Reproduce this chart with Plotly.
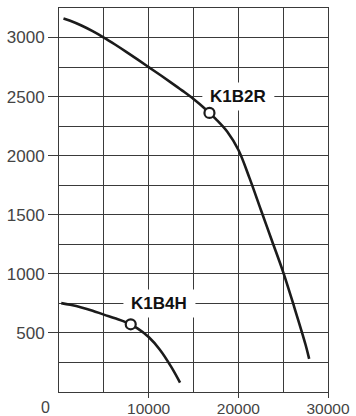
import plotly.graph_objects as go

# Pump curves: flow (x) against pressure (y)
k1b2r_flow = [500, 1250, 2500, 3750, 5000, 6250, 7500, 8750, 10000, 11250, 12500, 13750,
              15000, 16250, 17500, 18750, 20000, 21250, 22500, 23750, 25000, 26250, 27500, 27900]
k1b2r_pres = [3162, 3142, 3102, 3054, 3000, 2941, 2879, 2815, 2750, 2685, 2619, 2551,
              2480, 2400, 2310, 2205, 2050, 1810, 1545, 1280, 1015, 715, 400, 280]

k1b4h_flow = [250, 1250, 2500, 3750, 5000, 6250, 7500, 8750, 10000, 11250, 12500, 13500]
k1b4h_pres = [752, 738, 716, 688, 655, 624, 589, 539, 465, 358, 215, 80]

# Operating points marked on each curve
op_flow = [16780, 8000]
op_pres = [2362, 573]

# Curve names and where they are written
curve_names = ["K1B2R", "K1B4H"]
name_x = [20000, 11200]
name_y = [2500, 750]

x_ticks = [10000, 20000, 30000]
y_ticks = [500, 1000, 1500, 2000, 2500, 3000]

INK = "#1b1b1b"
GRID = "#3a3a3a"
LABEL = "#444444"
FONT = "Liberation Sans, Arial, sans-serif"

fig = go.Figure()
fig.add_trace(go.Scatter(x=k1b2r_flow, y=k1b2r_pres, mode="lines",
                         line=dict(color=INK, width=2.6, shape="spline", smoothing=1.0),
                         hoverinfo="skip"))
fig.add_trace(go.Scatter(x=k1b4h_flow, y=k1b4h_pres, mode="lines",
                         line=dict(color=INK, width=2.6, shape="spline", smoothing=1.0),
                         hoverinfo="skip"))
fig.add_trace(go.Scatter(x=op_flow, y=op_pres, mode="markers",
                         marker=dict(symbol="circle", size=10, color="white",
                                     line=dict(color=INK, width=2.2)),
                         hoverinfo="skip"))

# curve names: white patch hides the grid behind the text, curves stay on top
for name, nx, ny in zip(curve_names, name_x, name_y):
    fig.add_shape(type="rect", xref="x", yref="y", xsizemode="pixel", ysizemode="pixel",
                  xanchor=nx, yanchor=ny, x0=-36, x1=36, y0=-14, y1=14,
                  fillcolor="white", line=dict(width=0), layer="between")
    fig.add_annotation(x=nx, y=ny, text=name, showarrow=False,
                       font=dict(family=FONT, size=17, color="#111111", weight="bold"),
                       xanchor="center", yanchor="middle")

# origin label sits left of the axis corner
fig.add_annotation(x=-0.052, y=0, xref="paper", yref="paper", text="0", showarrow=False,
                   xanchor="center", yanchor="top", yshift=-5,
                   font=dict(family=FONT, size=16, color=LABEL))

fig.update_xaxes(range=[0, 30000], tickvals=x_ticks, ticktext=[f"{v}" for v in x_ticks],
                 ticks="outside", ticklen=5, tickcolor=GRID, tickwidth=1, ticklabelstandoff=-3,
                 showline=True, linecolor=GRID, linewidth=1, mirror=True, automargin=False,
                 showgrid=True, gridcolor=GRID, gridwidth=1,
                 minor=dict(dtick=5000, tick0=0, showgrid=True, gridcolor=GRID, gridwidth=1, ticks=""),
                 zeroline=False, tickfont=dict(family=FONT, size=15.5, color=LABEL))
fig.update_yaxes(range=[0, 3250], tickvals=y_ticks,
                 ticks="outside", ticklen=10, tickcolor=GRID, tickwidth=1,
                 showline=True, linecolor=GRID, linewidth=1, mirror=True, automargin=False,
                 showgrid=True, gridcolor=GRID, gridwidth=1,
                 minor=dict(dtick=250, tick0=0, showgrid=True, gridcolor=GRID, gridwidth=1, ticks=""),
                 zeroline=False, tickfont=dict(family=FONT, size=17, color=LABEL))

fig.update_layout(width=356, height=416, margin=dict(l=59, r=28, t=8, b=24, autoexpand=False),
                  paper_bgcolor="white", plot_bgcolor="white", showlegend=False)

fig.write_html("out.html")
